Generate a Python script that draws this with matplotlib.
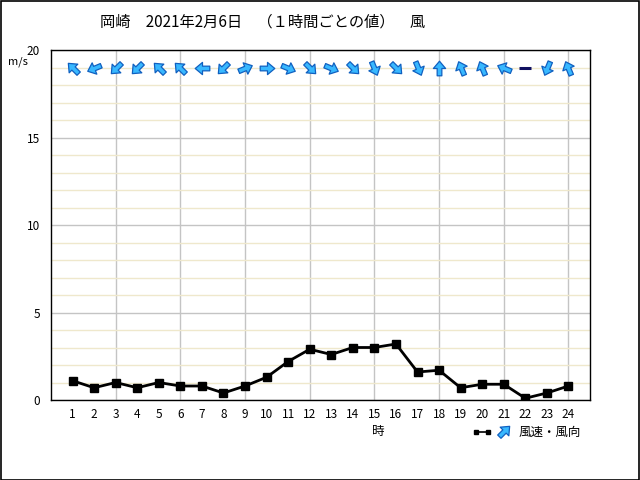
import numpy as np
import matplotlib
matplotlib.use("Agg")
import matplotlib.pyplot as plt
from matplotlib.path import Path
from matplotlib.ticker import MultipleLocator

plt.rcParams["font.family"] = ["Noto Sans CJK JP", "DejaVu Sans"]

# --- data ------------------------------------------------------------------
hours = list(range(1, 25))
wind_speed = [1.1, 0.7, 1.0, 0.7, 1.0, 0.8, 0.8, 0.4, 0.8, 1.3, 2.2, 2.9,
              2.6, 3.0, 3.0, 3.2, 1.6, 1.7, 0.7, 0.9, 0.9, 0.1, 0.4, 0.8]
wind_dir = ["南東", "東北東", "北東", "北東", "南東", "南東", "東", "北東",
            "西南西", "西", "西北西", "北西", "西北西", "北西", "北北西", "北西",
            "北北西", "南", "南南東", "南南東", "東南東", "静穏", "北北東", "南南東"]
compass = ["北", "北北東", "北東", "東北東", "東", "東南東", "南東", "南南東",
           "南", "南南西", "南西", "西南西", "西", "西北西", "北西", "北北西"]
title = "岡崎　2021年2月6日　（１時間ごとの値）　風"

# arrow glyph pointing +x, rotated per hour
ARROW = np.array([(-0.5, -0.16), (0.0, -0.16), (0.0, -0.42), (0.5, 0.0),
                  (0.0, 0.42), (0.0, 0.16), (-0.5, 0.16), (-0.5, -0.16)])
ARROW_MS = 10.5


def arrow_marker(theta_deg):
    """Rotated arrow path plus the marker size that keeps its length constant."""
    t = np.deg2rad(theta_deg)
    rot = np.array([[np.cos(t), -np.sin(t)], [np.sin(t), np.cos(t)]])
    v = ARROW @ rot.T
    # matplotlib normalises a path marker by its largest coordinate
    return Path(v, closed=True), ARROW_MS * np.abs(v).max() / 0.5


fig = plt.figure(figsize=(6.4, 4.8), dpi=100)
ax = fig.add_axes([51 / 640, 80 / 480, 539 / 640, 350 / 480])

ax.set_xlim(0, 25)
ax.set_ylim(0, 20)
ax.set_xticks(hours)
ax.set_xticklabels([str(h) for h in hours], fontsize=8.5)
ax.yaxis.set_major_locator(MultipleLocator(5))
ax.yaxis.set_minor_locator(MultipleLocator(1))
ax.tick_params(axis="both", which="both", length=0, pad=6, labelsize=8.5)
ax.tick_params(axis="y", pad=8)

# grid: cream every 1 m/s, gray every 5 m/s, gray vertical every 3 h
ax.grid(which="minor", axis="y", color="#efe8cc", lw=1)
ax.grid(which="major", axis="y", color="#c4c4c4", lw=1)
for h in range(3, 25, 3):
    ax.axvline(h, color="#c4c4c4", lw=1, zorder=0.5)
ax.set_axisbelow(True)
for s in ax.spines.values():
    s.set_color("black")
    s.set_linewidth(1)

ax.plot(hours, wind_speed, color="black", lw=2, marker="s", ms=6, zorder=3)

# wind direction arrows along the top
for h, d in zip(hours, wind_dir):
    if d == "静穏":
        ax.plot([h - 0.28, h + 0.28], [19, 19], color="#101060", lw=2.2,
                solid_capstyle="butt", zorder=4)
        continue
    bearing = compass.index(d) * 22.5 + 180  # direction the wind blows to
    mk, ms = arrow_marker(90 - bearing)
    ax.plot([h], [19], marker=mk, ms=ms, color="#38b8ff",
            mec="#1060c0", mew=0.9, zorder=4)

fig.text(100 / 640, 1 - 22 / 480, title, fontsize=11, va="center", ha="left")
fig.text(18 / 640, 1 - 62 / 480, "m/s", fontsize=8, va="center", ha="center")
fig.text(378 / 640, 1 - 432 / 480, "時", fontsize=9, va="center", ha="center")

# legend at bottom right
fig.lines.append(plt.Line2D([476 / 640, 488 / 640], [1 - 432 / 480] * 2,
                            transform=fig.transFigure, color="black", lw=1.2,
                            marker="s", ms=2.5, markevery=[0, 1]))
mk, ms = arrow_marker(45)
fig.lines.append(plt.Line2D([504 / 640], [1 - 431 / 480], transform=fig.transFigure,
                            marker=mk, ms=ms, color="#38b8ff",
                            mec="#1060c0", mew=0.9, lw=0))
fig.text(519 / 640, 1 - 432 / 480, "風速・風向", fontsize=9, va="center", ha="left")

# outer frame
fig.patches.append(plt.Rectangle((0.001, 0.001), 0.997, 0.997, transform=fig.transFigure,
                                 fill=False, edgecolor="black", lw=1.2))

fig.savefig("out.png", dpi=100)
